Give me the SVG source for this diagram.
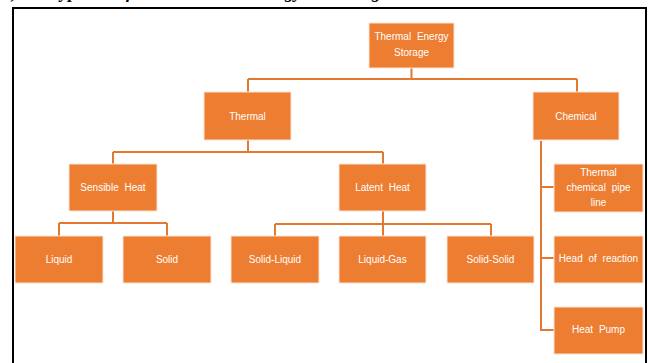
<svg xmlns="http://www.w3.org/2000/svg" width="648" height="363" viewBox="0 0 648 363">
<style>
.box{fill:#ED7D31;stroke:#FBE3D3;stroke-width:1}
.lbl{fill:#FFFFFF;font-family:"Liberation Sans",Arial,sans-serif;font-size:10px;text-anchor:middle;word-spacing:3px}
.con{fill:none;stroke:#E4782F;stroke-width:2}
.cap{font-family:"Liberation Serif","Times New Roman",serif;font-size:18px;font-weight:bold;font-style:italic;fill:#000}
</style>
<rect width="648" height="363" fill="#FFFFFF"/>
<text class="cap" y="-2.5"><tspan x="12">)</tspan><tspan x="50">Types</tspan><tspan x="117">of</tspan><tspan x="160">thermal</tspan><tspan x="252">energy</tspan><tspan x="335">storage</tspan></text>
<path d="M13,370 V8 H646 V370" fill="none" stroke="#000" stroke-width="2"/>
<g id="connectors">
<path class="con" d="M411.5,68 V79 M248,79 H577 M248,79 V92 M577,79 V92"/>
<path class="con" d="M248,140 V152 M113,152 H383 M113,152 V164 M383,152 V164"/>
<path class="con" d="M113,211 V223 M59,223 H167 M59,223 V236 M167,223 V236"/>
<path class="con" d="M383,211 V224 M275,224 H491 M275,224 V236 M383,224 V236 M491,224 V236"/>
<path class="con" d="M541,141 V330 M540,187 H554 M540,258 H554 M540,330 H554"/>
</g>
<g id="n-tes"><rect class="box" x="369" y="23" width="85" height="45"/><text class="lbl" x="411.5" y="40">Thermal Energy</text><text class="lbl" x="411.5" y="56">Storage</text></g>
<g id="n-thermal"><rect class="box" x="204" y="92" width="87" height="48"/><text class="lbl" x="247.5" y="120">Thermal</text></g>
<g id="n-chemical"><rect class="box" x="533" y="92" width="86" height="48"/><text class="lbl" x="576" y="120">Chemical</text></g>
<g id="n-sensible"><rect class="box" x="69" y="164" width="88" height="47"/><text class="lbl" x="113" y="191">Sensible Heat</text></g>
<g id="n-latent"><rect class="box" x="339" y="164" width="87" height="47"/><text class="lbl" x="382.5" y="191">Latent Heat</text></g>
<g id="n-liquid"><rect class="box" x="15" y="236" width="88" height="47"/><text class="lbl" x="59" y="263">Liquid</text></g>
<g id="n-solid"><rect class="box" x="123" y="236" width="88" height="47"/><text class="lbl" x="167" y="263">Solid</text></g>
<g id="n-solidliquid"><rect class="box" x="231" y="236" width="88" height="47"/><text class="lbl" x="275" y="263">Solid-Liquid</text></g>
<g id="n-liquidgas"><rect class="box" x="339" y="236" width="87" height="47"/><text class="lbl" x="382.5" y="263">Liquid-Gas</text></g>
<g id="n-solidsolid"><rect class="box" x="447" y="236" width="87" height="47"/><text class="lbl" x="490.5" y="263">Solid-Solid</text></g>
<g id="n-pipe"><rect class="box" x="554" y="164" width="89" height="48"/><text class="lbl" x="598.5" y="176">Thermal</text><text class="lbl" x="598.5" y="191">chemical pipe</text><text class="lbl" x="598.5" y="206">line</text></g>
<g id="n-reaction"><rect class="box" x="554" y="236" width="89" height="47"/><text class="lbl" x="598.5" y="262">Head of reaction</text></g>
<g id="n-heatpump"><rect class="box" x="554" y="307" width="89" height="47"/><text class="lbl" x="598.5" y="333">Heat Pump</text></g>
</svg>
